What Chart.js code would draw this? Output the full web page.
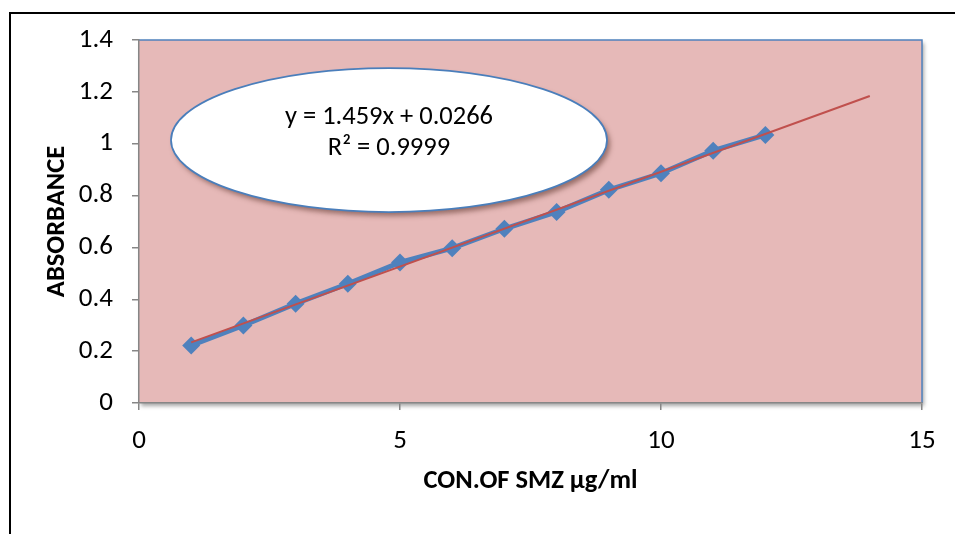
<!DOCTYPE html>
<html>
<head>
<meta charset="utf-8">
<script src="https://cdn.jsdelivr.net/npm/chart.js@4.4.1/dist/chart.umd.min.js"></script>
<style>
  html, body { margin: 0; padding: 0; background: #fff; overflow: hidden; }
  #frame { position: absolute; left: 9px; top: 12px; width: 1000px; height: 600px;
           border: 2px solid #000; box-sizing: border-box; }
  #wrap { position: absolute; left: 0; top: 0; width: 955px; height: 534px; }
</style>
</head>
<body>
<div id="frame"></div>
<div id="wrap"><canvas id="chart" width="955" height="534"></canvas></div>
<script>
// Calibration curve: absorbance vs concentration, with linear trendline.

const CONC = [1, 2, 3, 4, 5, 6, 7, 8, 9, 10, 11, 12];
const ABSORBANCE = [0.222, 0.299, 0.383, 0.460, 0.542, 0.597, 0.672, 0.737, 0.822, 0.886, 0.973, 1.034];

// Trendline end points as drawn (runs forward past the last point).
const TREND_X = [1, 14];
const TREND_Y = [0.234, 1.184];

const X_TICKS = [0, 5, 10, 15];
const Y_TICKS = [0, 0.2, 0.4, 0.6, 0.8, 1, 1.2, 1.4];

const EQUATION = ["y = 1.459x + 0.0266", "R\u00b2 = 0.9999"];

const FONT = "Carlito, Lato, 'Open Sans', sans-serif";
const AXIS_GREY = "#868686";

// --------------- Plugins ---------------

// Pink plot area with a soft shadow, blue edge on top and right.
const plotArea = {
  id: "plotArea",
  beforeDraw(chart) {
    const { ctx } = chart;
    const { left, top, right, bottom } = chart.chartArea;
    ctx.save();
    ctx.shadowColor = "rgba(0,0,0,0.35)";
    ctx.shadowOffsetX = 2;
    ctx.shadowOffsetY = 3;
    ctx.shadowBlur = 4;
    ctx.fillStyle = "#e6b9b8";
    ctx.fillRect(left, top, right - left, bottom - top);
    ctx.restore();

    ctx.save();
    ctx.strokeStyle = "#4f81bd";
    ctx.lineWidth = 1.5;
    ctx.beginPath();
    ctx.moveTo(left, top);
    ctx.lineTo(right, top);
    ctx.lineTo(right, bottom);
    ctx.stroke();
    ctx.restore();
  },
};

// White oval callout holding the regression equation.
const equationOval = {
  id: "equationOval",
  afterDatasetsDraw(chart) {
    const { ctx } = chart;
    const cx = 389, cy = 140, rx = 218, ry = 72;
    ctx.save();
    ctx.beginPath();
    ctx.ellipse(cx, cy, rx, ry, 0, 0, Math.PI * 2);
    ctx.shadowColor = "rgba(90,50,40,0.55)";
    ctx.shadowOffsetX = 3;
    ctx.shadowOffsetY = 4;
    ctx.shadowBlur = 5;
    ctx.fillStyle = "#ffffff";
    ctx.fill();
    ctx.shadowColor = "transparent";
    ctx.strokeStyle = "#4a7ebb";
    ctx.lineWidth = 1.75;
    ctx.stroke();

    ctx.fillStyle = "#000";
    ctx.font = "26.5px " + FONT;
    ctx.textAlign = "center";
    ctx.textBaseline = "middle";
    ctx.fillText(EQUATION[0], cx, 117);
    ctx.fillText(EQUATION[1], cx, 148);
    ctx.restore();
  },
};

// --------------- Chart ---------------

const ctx = document.getElementById("chart").getContext("2d");
new Chart(ctx, {
  type: "scatter",
  data: {
    datasets: [
      {
        label: "Linear (trend)",
        data: TREND_X.map((x, i) => ({ x, y: TREND_Y[i] })),
        showLine: true,
        borderColor: "#c0504d",
        borderWidth: 2,
        pointRadius: 0,
        order: 0,
      },
      {
        label: "Absorbance",
        data: CONC.map((x, i) => ({ x, y: ABSORBANCE[i] })),
        showLine: true,
        borderColor: "#4f81bd",
        backgroundColor: "#4f81bd",
        borderWidth: 5,
        pointStyle: "rectRot",
        pointRadius: 9,
        pointBorderWidth: 0,
        order: 1,
      },
    ],
  },
  options: {
    responsive: false,
    animation: false,
    devicePixelRatio: 1,
    layout: { padding: { left: 30, top: 40, right: 33, bottom: 0 } },
    plugins: {
      legend: { display: false },
      tooltip: { enabled: false },
    },
    scales: {
      x: {
        type: "linear",
        min: 0,
        max: 15,
        afterFit: s => { s.height = 131; },
        afterBuildTicks: s => { s.ticks = X_TICKS.map(v => ({ value: v })); },
        grid: { drawOnChartArea: false, drawTicks: true, tickLength: 7, color: AXIS_GREY, lineWidth: 1.5 },
        border: { display: true, color: AXIS_GREY, width: 1.5 },
        ticks: { color: "#000", padding: 15, font: { family: FONT, size: 27 } },
        title: {
          display: true,
          text: "CON.OF SMZ \u03bcg/ml",
          color: "#000",
          font: { family: FONT, size: 26.5, weight: "bold" },
          padding: { top: 0, bottom: 37 },
        },
      },
      y: {
        type: "linear",
        min: 0,
        max: 1.4,
        afterFit: s => { s.width = 109; },
        afterBuildTicks: s => { s.ticks = Y_TICKS.map(v => ({ value: v })); },
        grid: { drawOnChartArea: false, drawTicks: true, tickLength: 7, color: AXIS_GREY, lineWidth: 1.5 },
        border: { display: true, color: AXIS_GREY, width: 1.5 },
        ticks: {
          color: "#000",
          padding: 19,
          font: { family: FONT, size: 27 },
          callback: v => String(Number(v.toFixed(2))),
        },
        title: {
          display: true,
          text: "ABSORBANCE",
          color: "#000",
          font: { family: FONT, size: 26.5, weight: "bold" },
          padding: { top: 11, bottom: 0 },
        },
      },
    },
  },
  plugins: [plotArea, equationOval],
});
</script>
</body>
</html>
